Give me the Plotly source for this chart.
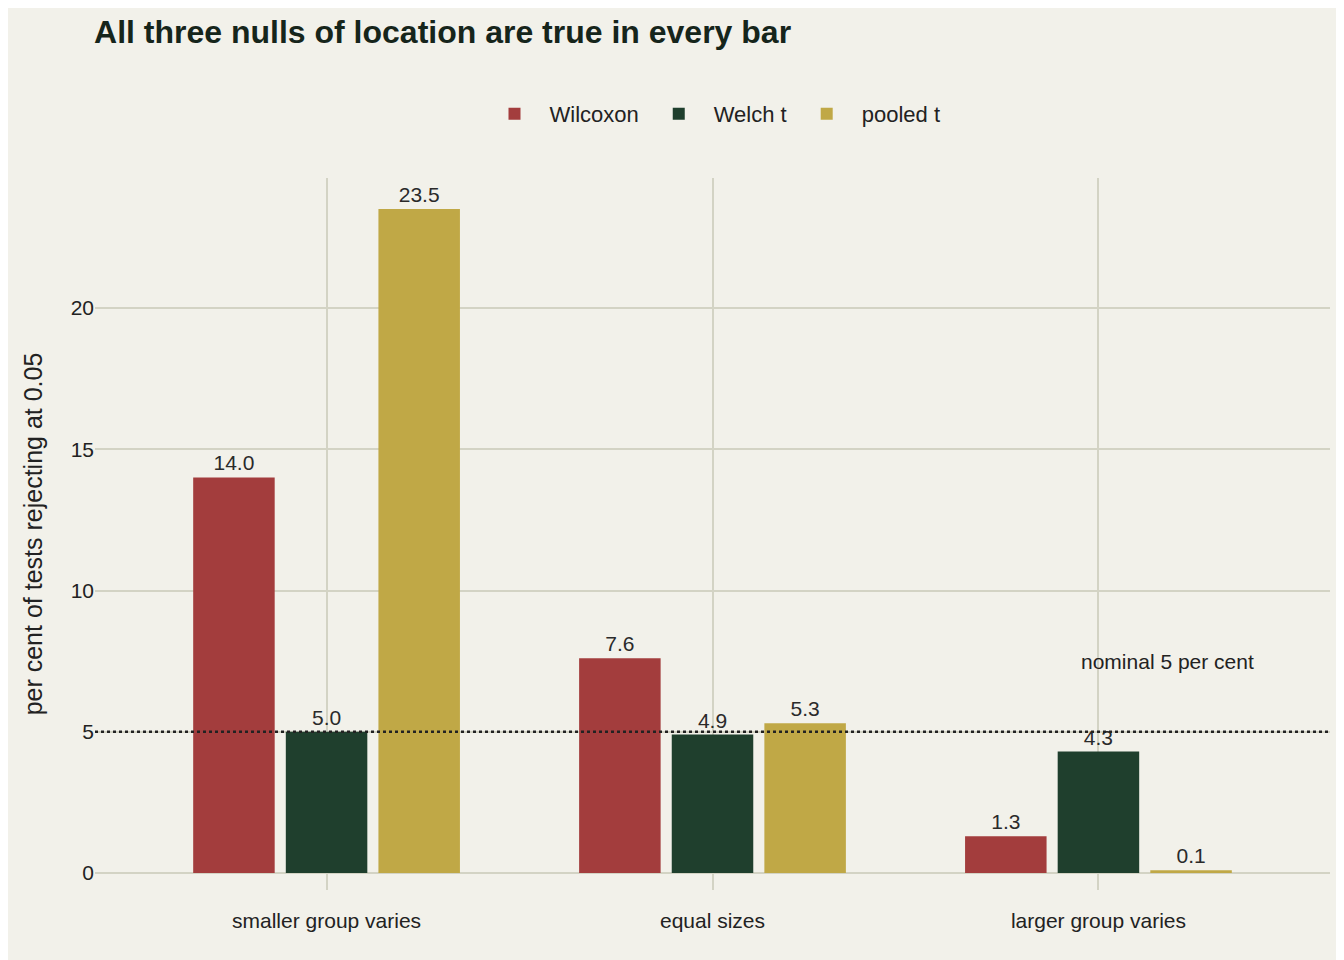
import plotly.graph_objects as go

categories = ["smaller group varies", "equal sizes", "larger group varies"]
wilcoxon = [14.0, 7.6, 1.3]
welch = [5.0, 4.9, 4.3]
pooled = [23.5, 5.3, 0.1]
series = [("Wilcoxon", wilcoxon, "#A33D3D"), ("Welch t", welch, "#1F3F2D"), ("pooled t", pooled, "#C0A846")]

fig = go.Figure()
for name, vals, col in series:
    fig.add_bar(x=list(range(3)), y=vals, name=name, marker_color=col, marker_line_width=0,
                text=[f"{v:.1f}" for v in vals], textposition="outside", cliponaxis=False,
                textfont=dict(size=21, color="#2a2a2a"))
fig.add_hline(y=5, line=dict(color="#222", width=2.5, dash="dot"))
fig.add_annotation(x=2.18, y=7.5, text="nominal 5 per cent", showarrow=False,
                   font=dict(size=21, color="#222"))
fig.update_layout(
    width=1344, height=960, paper_bgcolor="#F2F1EA", plot_bgcolor="#F2F1EA",
    font=dict(family="Liberation Sans, Arial", color="#222"),
    title=dict(text="<b>All three nulls of location are true in every bar</b>", x=0.064, xanchor="left",
               y=0.975, yanchor="middle", font=dict(size=32, color="#16251B")),
    margin=dict(l=87, r=22, t=170, b=78),
    barmode="group", bargap=0.28, bargroupgap=0.12,
    legend=dict(orientation="h", x=0.5, xanchor="center", y=1.09, yanchor="middle",
                font=dict(size=22), itemwidth=60, traceorder="normal"),
    xaxis=dict(range=[-0.6, 2.6], tickvals=list(range(3)), ticktext=categories,
               showgrid=True, gridcolor="#D3D3C4", gridwidth=1.5, zeroline=False,
               tickfont=dict(size=21), ticks="", ticklabelstandoff=16),
    yaxis=dict(range=[-0.6, 24.6], tickvals=[0, 5, 10, 15, 20], showgrid=True,
               gridcolor="#D3D3C4", gridwidth=1.5, zeroline=True, zerolinecolor="#D3D3C4",
               zerolinewidth=1.5, tickfont=dict(size=21), ticks="",
               title=dict(text="per cent of tests rejecting at 0.05", font=dict(size=25), standoff=20)),
)
fig.write_html("out.html")
